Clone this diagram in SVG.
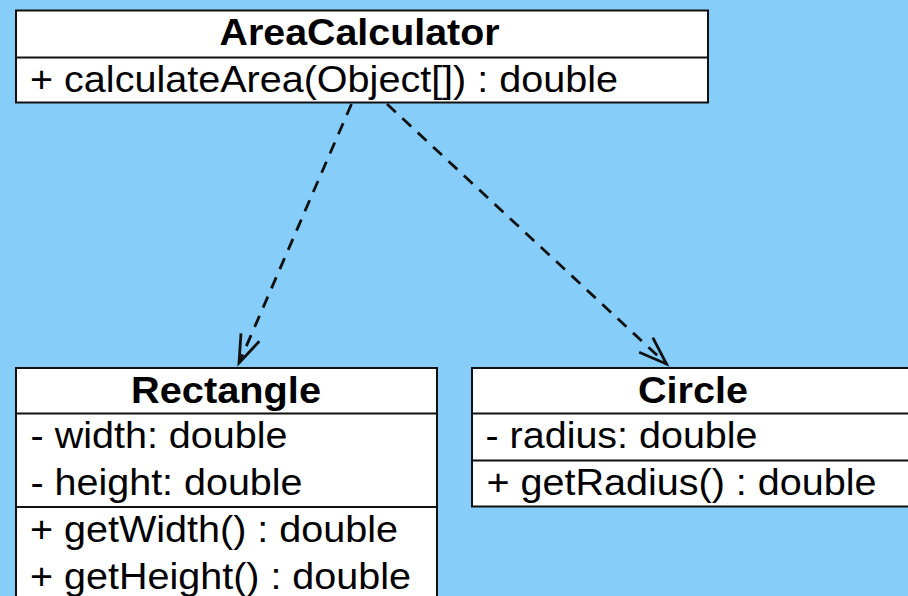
<svg xmlns="http://www.w3.org/2000/svg" width="908" height="596" viewBox="0 0 908 596">
<style>
.box{fill:#ffffff;stroke:#111111;stroke-width:2}
.div{stroke:#111111;stroke-width:2}
.t{font-family:"Liberation Sans",Arial,sans-serif;font-size:37px;fill:#000000}
.b{font-weight:bold;text-anchor:middle}
.edge{fill:none;stroke:#111111;stroke-width:2.8;stroke-dasharray:12 9}
</style>
<defs>
<marker id="open" markerUnits="userSpaceOnUse" markerWidth="40" markerHeight="30" viewBox="-32 -15 36 30" refX="0" refY="0" orient="auto" overflow="visible">
<path d="M-28,-10 L0,0 L-28,10" fill="none" stroke="#111111" stroke-width="2.8" stroke-dasharray="none"/>
</marker>
</defs>
<rect x="0" y="0" width="908" height="596" fill="#87CDFA"/>
<g id="connectors">
<line class="edge" x1="351.5" y1="104" x2="239" y2="363" marker-end="url(#open)"/>
<line class="edge" x1="387" y1="104" x2="666.5" y2="364" marker-end="url(#open)"/>
</g>
<g id="AreaCalculator">
<rect class="box" x="16" y="10.5" width="692" height="92"/>
<line class="div" x1="16" y1="57.5" x2="708" y2="57.5"/>
<text class="t b" x="359.5" y="45" textLength="280" lengthAdjust="spacingAndGlyphs">AreaCalculator</text>
<text class="t" x="30" y="91.5" textLength="588" lengthAdjust="spacingAndGlyphs">+ calculateArea(Object[]) : double</text>
</g>
<g id="Rectangle">
<rect class="box" x="16" y="368" width="421" height="260"/>
<line class="div" x1="16" y1="413.5" x2="437" y2="413.5"/>
<line class="div" x1="16" y1="507" x2="437" y2="507"/>
<text class="t b" x="226" y="403" textLength="190" lengthAdjust="spacingAndGlyphs">Rectangle</text>
<text class="t" x="30.5" y="448" textLength="257" lengthAdjust="spacingAndGlyphs">- width: double</text>
<text class="t" x="30.5" y="495" textLength="272" lengthAdjust="spacingAndGlyphs">- height: double</text>
<text class="t" x="30" y="542" textLength="368" lengthAdjust="spacingAndGlyphs">+ getWidth() : double</text>
<text class="t" x="30" y="589" textLength="381" lengthAdjust="spacingAndGlyphs">+ getHeight() : double</text>
</g>
<g id="Circle">
<rect class="box" x="472" y="368" width="444" height="138.5"/>
<line class="div" x1="472" y1="413.5" x2="916" y2="413.5"/>
<line class="div" x1="472" y1="460.5" x2="916" y2="460.5"/>
<text class="t b" x="693" y="403" textLength="110" lengthAdjust="spacingAndGlyphs">Circle</text>
<text class="t" x="485.5" y="448" textLength="272" lengthAdjust="spacingAndGlyphs">- radius: double</text>
<text class="t" x="486.5" y="494.5" textLength="390" lengthAdjust="spacingAndGlyphs">+ getRadius() : double</text>
</g>
</svg>
